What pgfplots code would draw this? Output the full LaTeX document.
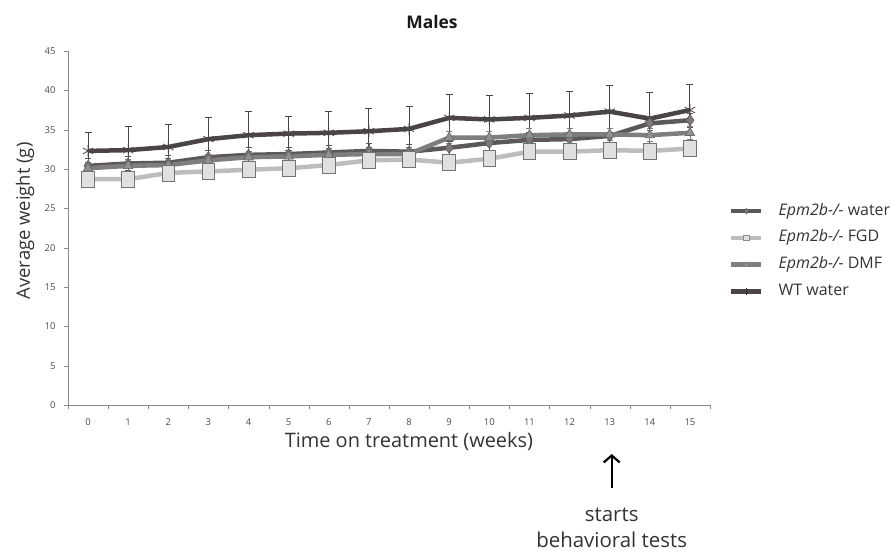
\documentclass[border=0pt]{standalone}
\usepackage{fontspec}
\setmainfont{Open Sans}
\usepackage{pgfplots}
\usepackage{pgfplotstable}
\pgfplotsset{compat=1.18}
\usetikzlibrary{arrows.meta}
\definecolor{cwt}{HTML}{4A4444}
\definecolor{cwater}{HTML}{5C5858}
\definecolor{cdmf}{HTML}{7E7E7C}
\definecolor{cfgd}{HTML}{BDBDBB}
\definecolor{caxis}{HTML}{8A8A8A}
\definecolor{ctext}{HTML}{333333}
\pgfplotstableread{
x y e
0 32.3 2.4
1 32.4 3.0
2 32.8 2.8
3 33.8 2.8
4 34.3 3.0
5 34.5 2.2
6 34.6 2.7
7 34.8 2.9
8 35.1 2.9
9 36.5 3.0
10 36.3 3.1
11 36.5 3.1
12 36.8 3.0
13 37.3 3.3
14 36.4 3.3
15 37.5 3.3
}\wt
\pgfplotstableread{
x y e
0 30.4 0.9
1 30.7 0.9
2 30.8 0.9
3 31.5 0.9
4 31.8 0.9
5 31.9 0.9
6 32.1 0.9
7 32.3 0.9
8 32.2 0.9
9 32.7 0.9
10 33.3 0.9
11 33.7 0.9
12 33.8 0.9
13 34.2 0.9
14 35.8 0.9
15 36.2 0.9
}\water
\pgfplotstableread{
x y e
0 30.1 0.8
1 30.4 0.8
2 30.5 0.8
3 31.1 0.8
4 31.5 0.8
5 31.6 0.8
6 31.8 0.8
7 31.9 0.8
8 31.9 0.8
9 34.0 0.8
10 34.0 0.8
11 34.3 0.8
12 34.4 0.8
13 34.4 0.8
14 34.3 0.8
15 34.6 0.8
}\dmf
\pgfplotstableread{
x y e
0 28.7 0.7
1 28.7 0.7
2 29.5 0.7
3 29.7 0.7
4 29.9 0.7
5 30.1 0.7
6 30.5 0.7
7 31.1 0.7
8 31.2 0.7
9 30.8 0.7
10 31.3 0.7
11 32.2 0.7
12 32.2 0.7
13 32.4 0.7
14 32.3 0.7
15 32.6 0.7
}\fgd
\begin{document}
\begin{tikzpicture}
\path[use as bounding box] (0bp,0bp) rectangle (891bp,-555bp);
\begin{axis}[
  at={(68bp,-405bp)}, anchor=south west,
  scale only axis, width=642bp, height=354bp,
  xmin=-0.5, xmax=15.5, ymin=0, ymax=45,
  axis lines=left, axis line style={caxis, -},
  xtick={0,...,15}, minor xtick={-0.5,0.5,...,15.5},
  major x tick style={draw=none},
  minor tick length=4bp,
  ytick={0,5,...,45}, major tick length=4bp,
  tick style={caxis},
  xtick align=outside, ytick align=outside,
  tick label style={font=\fontsize{9.5}{11}\selectfont, text=black!70},
  xticklabel style={yshift=-6bp},
  yticklabel style={xshift=-5bp},
  /pgf/number format/assume math mode=true,
  xlabel={Time on treatment (weeks)},
  xlabel style={font=\fontsize{20}{24}\selectfont, text=ctext,
    at={(axis description cs:0.531,-0.1017)}, anchor=center},
  ylabel={Average weight (g)},
  ylabel style={font=\fontsize{18.5}{22}\selectfont, text=ctext,
    at={(axis description cs:-0.067,0.52)}, anchor=center, rotate=0},
  clip=false,
]
\addplot[cwt, line width=4.5bp, mark=asterisk, mark size=6bp,
  mark options={line width=0.8bp, solid},
  error bars/.cd, y dir=both, y explicit,
  error bar style={line width=1bp, color=cwt}, error mark options={rotate=90, mark size=3.5bp, line width=1bp}]
  table[x=x, y=y, y error=e] {\wt};
\addplot[cwater, line width=4.5bp, mark=diamond*, mark size=5.5bp,
  mark options={fill=cwater!80, draw=cwater, line width=0.6bp},
  error bars/.cd, y dir=both, y explicit,
  error bar style={line width=0.8bp, color=cwater}, error mark options={rotate=90, mark size=3bp, line width=0.8bp}]
  table[x=x, y=y, y error=e] {\water};
\addplot[cdmf, line width=4.5bp, mark=triangle*, mark size=5.5bp,
  mark options={fill=cdmf!85, draw=cdmf!80!black, line width=0.6bp},
  error bars/.cd, y dir=both, y explicit,
  error bar style={line width=0.8bp, color=cdmf}, error mark options={rotate=90, mark size=3bp, line width=0.8bp}]
  table[x=x, y=y, y error=e] {\dmf};
\addplot[cfgd, line width=4.5bp, mark=square*, mark size=8bp,
  mark options={xscale=0.8, fill=black!12, draw=black!55, line width=0.8bp, rounded corners=1.5bp},
  error bars/.cd, y dir=both, y explicit,
  error bar style={line width=0.8bp, color=black!55}, error mark options={rotate=90, mark size=3bp, line width=0.8bp}]
  table[x=x, y=y, y error=e] {\fgd};
\end{axis}
\begin{axis}[
  at={(68bp,-405bp)}, anchor=south west,
  scale only axis, width=642bp, height=354bp,
  xmin=-0.5, xmax=15.5, ymin=0, ymax=45,
  hide axis,
  legend style={draw=none, fill=none, at={(1.0296,0.5706)}, anchor=north west,
    inner sep=0pt, font=\fontsize{16}{19}\selectfont, row sep=10.7bp, column sep=0bp,
    nodes={text height=11bp, text depth=3bp, inner sep=1bp, text=ctext}},
  legend cell align=left,
  legend image code/.code={\draw[mark repeat=2,mark phase=2,#1] plot coordinates {(0bp,0bp) (15bp,0bp) (30bp,0bp)}; \path (44bp,0bp);},
]
\addlegendimage{cwater, line width=4.5bp, mark=diamond*, mark size=2.8bp, mark options={fill=cwater!80, line width=0.5bp}}
\addlegendentry{\textit{Epm2b-/-} water}
\addlegendimage{cfgd, line width=4.5bp, mark=square*, mark size=2.8bp, mark options={fill=black!12, draw=black!45, line width=0.5bp}}
\addlegendentry{\textit{Epm2b-/-} FGD}
\addlegendimage{cdmf, line width=4.5bp, mark=triangle*, mark size=2.8bp, mark options={fill=cdmf!85, line width=0.5bp}}
\addlegendentry{\textit{Epm2b-/-} DMF}
\addlegendimage{cwt, line width=4.5bp, mark=|, mark size=3.5bp, mark options={line width=0.8bp, draw=cwt!70!black}}
\addlegendentry{WT water}
\end{axis}
\node[font=\bfseries\fontsize{17.5}{20}\selectfont, text=black!90] at (432bp,-22bp) {Males};
\draw[line width=2.2bp, -{Straight Barb[length=7bp,width=16bp]}] (611.7bp,-488bp) -- (611.7bp,-454bp);
\node[font=\fontsize{20.5}{26.7}\selectfont, text=ctext, align=center] at (611.7bp,-528bp) {starts\\behavioral tests};
\end{tikzpicture}
\end{document}
